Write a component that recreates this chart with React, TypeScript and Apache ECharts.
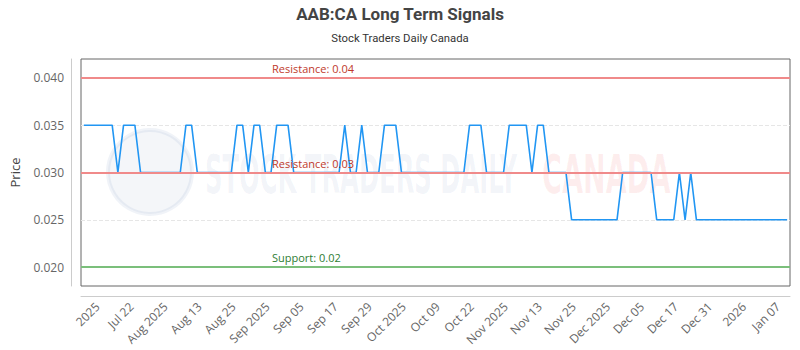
import React, { useEffect, useRef } from 'react';
import * as echarts from 'echarts';

const tickLabels = [
  '2025', 'Jul 22', 'Aug 2025', 'Aug 13', 'Aug 25', 'Sep 2025', 'Sep 05', 'Sep 17', 'Sep 29',
  'Oct 2025', 'Oct 09', 'Oct 22', 'Nov 2025', 'Nov 13', 'Nov 25', 'Dec 2025', 'Dec 05',
  'Dec 17', 'Dec 31', '2026', 'Jan 07',
];
const firstLabelIndex = 3;
const labelStep = 6;

const prices = [
  0.035, 0.035, 0.035, 0.035, 0.035, 0.035, 0.030, 0.035, 0.035, 0.035,
  0.030, 0.030, 0.030, 0.030, 0.030, 0.030, 0.030, 0.030, 0.035, 0.035,
  0.030, 0.030, 0.030, 0.030, 0.030, 0.030, 0.030, 0.035, 0.035, 0.030,
  0.035, 0.035, 0.030, 0.030, 0.035, 0.035, 0.035, 0.030, 0.030, 0.030,
  0.030, 0.030, 0.030, 0.030, 0.030, 0.030, 0.035, 0.030, 0.030, 0.035,
  0.030, 0.030, 0.030, 0.035, 0.035, 0.035, 0.030, 0.030, 0.030, 0.030,
  0.030, 0.030, 0.030, 0.030, 0.030, 0.030, 0.030, 0.030, 0.035, 0.035,
  0.035, 0.030, 0.030, 0.030, 0.030, 0.035, 0.035, 0.035, 0.035, 0.030,
  0.035, 0.035, 0.030, 0.030, 0.030, 0.030, 0.025, 0.025, 0.025, 0.025,
  0.025, 0.025, 0.025, 0.025, 0.025, 0.030, 0.030, 0.030, 0.030, 0.030,
  0.030, 0.025, 0.025, 0.025, 0.025, 0.030, 0.025, 0.030, 0.025, 0.025,
  0.025, 0.025, 0.025, 0.025, 0.025, 0.025, 0.025, 0.025, 0.025, 0.025,
  0.025, 0.025, 0.025, 0.025, 0.025,
];

const categories = prices.map((_, i) => 'd' + i);

const yTicks = [0.02, 0.025, 0.03, 0.035, 0.04];
const yMin = 0.018;
const yMax = 0.042;

const resistanceLevels = [0.04, 0.03];
const supportLevels = [0.02];

const FONT = 'Open Sans';

export default function App() {
  const ref = useRef<HTMLDivElement>(null);

  useEffect(() => {
    const chart = echarts.init(ref.current!, null, { renderer: 'svg' });
    const markData: any[] = [];
    resistanceLevels.forEach((v) => {
      markData.push({
        yAxis: v,
        lineStyle: { color: '#f08a8a', width: 2, type: 'solid' },
        label: {
          formatter: 'Resistance: ' + v,
          color: '#c0392b',
        },
      });
    });
    supportLevels.forEach((v) => {
      markData.push({
        yAxis: v,
        lineStyle: { color: '#7bbf7b', width: 2, type: 'solid' },
        label: {
          formatter: 'Support: ' + v,
          color: '#2e7d32',
        },
      });
    });

    chart.setOption({
      animation: false,
      backgroundColor: '#fff',
      title: {
        text: 'AAB:CA Long Term Signals',
        subtext: 'Stock Traders Daily Canada',
        left: 'center',
        top: 0,
        itemGap: 11,
        textStyle: { fontFamily: 'Roboto', fontSize: 17, fontWeight: 'bold', color: '#444' },
        subtextStyle: { fontFamily: 'Roboto', fontSize: 11.3, color: '#333' },
      },
      graphic: [
        {
          type: 'circle',
          shape: { cx: 150, cy: 172, r: 42 },
          style: { fill: 'rgba(70,100,160,0.06)', stroke: 'rgba(70,100,160,0.08)', lineWidth: 4 },
          silent: true,
          z: 0,
        },
        {
          type: 'text',
          x: 205,
          y: 174,
          style: {
            text: 'STOCK TRADERS DAILY',
            fontFamily: 'DejaVu Sans Condensed',
            fontWeight: 'bold',
            fontSize: 54,
            fill: 'rgba(70,100,160,0.07)',
            verticalAlign: 'middle',
          },
          scaleX: 0.5,
          silent: true,
          z: 0,
        },
        {
          type: 'text',
          x: 542,
          y: 174,
          style: {
            text: 'CANADA',
            fontFamily: 'DejaVu Sans Condensed',
            fontWeight: 'bold',
            fontSize: 54,
            fill: 'rgba(235,70,70,0.09)',
            verticalAlign: 'middle',
          },
          scaleX: 0.56,
          silent: true,
          z: 0,
        },
      ],
      grid: {
        left: 77,
        right: 10,
        top: 59,
        bottom: 64,
        show: true,
        borderColor: '#666',
        borderWidth: 1,
        backgroundColor: 'transparent',
      },
      xAxis: {
        type: 'category',
        data: categories,
        boundaryGap: true,
        offset: 10,
        axisLine: { show: true, lineStyle: { color: '#ccc' } },
        axisTick: { show: false },
        splitLine: { show: false },
        axisLabel: {
          rotate: 45,
          color: '#666',
          fontFamily: FONT,
          fontSize: 12,
          margin: 5,
          padding: [0, 5, 0, 0],
          interval: (i: number) => i >= firstLabelIndex && (i - firstLabelIndex) % labelStep === 0,
          formatter: (_v: string, i: number) => tickLabels[(i - firstLabelIndex) / labelStep] ?? '',
        },
      },
      yAxis: {
        type: 'value',
        min: yMin,
        max: yMax,
        offset: 10,
        name: 'Price',
        nameLocation: 'middle',
        nameGap: 50,
        nameTextStyle: { fontFamily: FONT, fontSize: 13, color: '#444' },
        axisLine: { show: true, lineStyle: { color: '#ccc' } },
        axisTick: { show: false, customValues: yTicks },
        axisLabel: {
          customValues: yTicks,
          color: '#666',
          fontFamily: FONT,
          fontSize: 12,
          margin: 7,
          formatter: (v: number) => v.toFixed(3),
        },
        splitLine: { show: true, lineStyle: { color: '#e6e6e6', type: 'dashed' } },
      },
      series: [
        {
          type: 'line',
          data: prices,
          showSymbol: false,
          lineStyle: { color: '#2196f3', width: 1.6 },
          itemStyle: { color: '#2196f3' },
          z: 3,
          markLine: {
            silent: true,
            symbol: 'none',
            animation: false,
            label: {
              position: 'insideStartTop',
              distance: [191, 4],
              fontFamily: FONT,
              fontSize: 11,
            },
            data: markData,
          },
        },
      ],
    });
    return () => chart.dispose();
  }, []);

  return (
    <div
      ref={ref}
      style={{ position: 'fixed', left: 0, top: 0, width: 800, height: 350 }}
    />
  );
}
